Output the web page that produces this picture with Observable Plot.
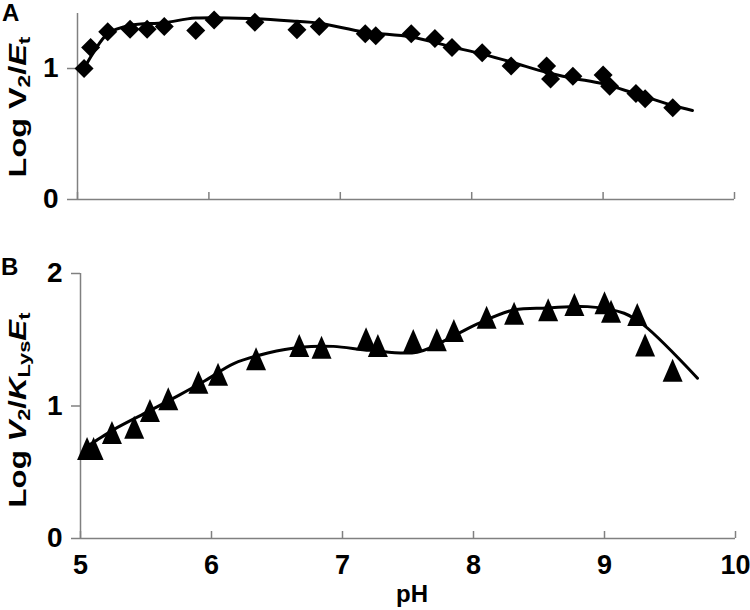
<!DOCTYPE html>
<html><head><meta charset="utf-8">
<script src="https://cdn.jsdelivr.net/npm/d3@7"></script>
<script src="https://cdn.jsdelivr.net/npm/@observablehq/plot@0.6"></script>
<style>
body{margin:0;background:#fff;}
#wrap{position:relative;width:750px;height:610px;overflow:hidden;font-family:"Liberation Sans",Arial,sans-serif;color:#000;}
.pl{position:absolute;left:0;}
.lab{position:absolute;font-weight:bold;white-space:nowrap;}
.ylab{position:absolute;white-space:nowrap;font-weight:bold;font-size:24px;line-height:24px;}
.ylab sub{font-size:70%;vertical-align:-0.25em;line-height:0;}
</style></head><body><div id="wrap"></div>
<script>
// Panel A: Log V2/Et vs pH
const phA  = [5.05,5.10,5.23,5.40,5.53,5.66,5.90,6.04,6.35,6.67,6.84,7.19,7.27,7.54,7.72,7.85,8.08,8.30,8.57,8.60,8.77,9.00,9.05,9.25,9.32,9.53];
const logA = [1.00,1.16,1.28,1.30,1.30,1.32,1.29,1.37,1.353,1.295,1.32,1.265,1.25,1.265,1.23,1.16,1.12,1.02,1.02,0.92,0.94,0.95,0.865,0.81,0.77,0.70];
const fitPhA = [5.05,5.12,5.23,5.40,5.66,5.90,6.35,6.67,6.84,7.19,7.54,7.85,8.08,8.30,8.57,8.77,9.00,9.25,9.53,9.68];
const fitA   = [1.00,1.12,1.265,1.33,1.35,1.385,1.38,1.36,1.346,1.278,1.24,1.165,1.11,1.05,0.97,0.926,0.883,0.807,0.718,0.68];

// Panel B: Log V2/KLysEt vs pH
const phB  = [5.05,5.10,5.24,5.41,5.53,5.67,5.90,6.05,6.34,6.67,6.84,7.18,7.27,7.54,7.72,7.85,8.10,8.31,8.57,8.77,9.00,9.05,9.25,9.31,9.52];
const logB = [0.68,0.68,0.80,0.84,0.966,1.054,1.18,1.24,1.356,1.457,1.444,1.507,1.457,1.494,1.50,1.57,1.67,1.70,1.726,1.766,1.78,1.715,1.69,1.46,1.27];
const fitPhB = [5.05,5.10,5.25,5.50,5.75,5.95,6.17,6.43,6.68,6.93,7.21,7.57,7.85,8.03,8.31,8.56,8.87,9.15,9.30,9.71];
const fitB   = [0.70,0.727,0.82,0.95,1.08,1.19,1.32,1.40,1.444,1.45,1.42,1.406,1.53,1.62,1.726,1.74,1.75,1.70,1.61,1.21];

const xTicks = [5,6,7,8,9,10];
const yTicksA = [0,1];
const yTicksB = [0,1,2];

const diamond = {draw(ctx, size){const r=Math.sqrt(size/Math.PI);ctx.moveTo(0,-r);ctx.lineTo(r,0);ctx.lineTo(0,r);ctx.lineTo(-r,0);ctx.closePath();}};
const tri = {draw(ctx, size){const r=Math.sqrt(size/Math.PI);ctx.moveTo(0,-1.15*r);ctx.lineTo(r,1.15*r);ctx.lineTo(-r,1.15*r);ctx.closePath();}};

const axisGray = "#808080";
const font = '"Liberation Sans", Arial, sans-serif';
const style = {fontFamily:font, fontSize:"26px", fontWeight:"bold", color:"#000", background:"transparent", overflow:"visible"};
const fmt = d => String(d);

const ptsA = phA.map((x,i)=>({x, y:logA[i]}));
const lnA = fitPhA.map((x,i)=>({x, y:fitA[i]}));
const ptsB = phB.map((x,i)=>({x, y:logB[i]}));
const lnB = fitPhB.map((x,i)=>({x, y:fitB[i]}));

const A = Plot.plot({
  width:750, height:210, marginLeft:77, marginRight:16, marginTop:13, marginBottom:11,
  x:{domain:[5,10]}, y:{domain:[0,1.42]}, style,
  marks:[
    Plot.ruleY([0],{stroke:axisGray, strokeWidth:1.5}),
    Plot.ruleX([5],{stroke:axisGray, strokeWidth:1.5}),
    Plot.axisX({ticks:xTicks, tickSize:7, dy:-7, tickFormat:()=>"", label:null, stroke:axisGray, strokeWidth:1.5}),
    Plot.axisY({ticks:yTicksA, tickSize:10, tickPadding:9, tickFormat:fmt, label:null, stroke:axisGray, strokeWidth:1.5, fill:"#000", fontSize:28, fontWeight:"bold"}),
    Plot.line(lnA,{x:"x", y:"y", stroke:"#000", strokeWidth:3, curve:"catmull-rom"}),
    Plot.dot(ptsA,{x:"x", y:"y", symbol:diamond, r:9.5, fill:"#000", stroke:"none"})
  ]
});
A.classList.add("pl"); A.style.top="0px";

const B = Plot.plot({
  width:750, height:380, marginLeft:80, marginRight:15, marginTop:43, marginBottom:72,
  x:{domain:[5,10]}, y:{domain:[0,2]}, style,
  marks:[
    Plot.ruleY([0],{stroke:axisGray, strokeWidth:1.5}),
    Plot.ruleX([5],{stroke:axisGray, strokeWidth:1.5}),
    Plot.axisX({ticks:xTicks, tickSize:7, dy:-7, tickFormat:()=>"", label:null, stroke:axisGray, strokeWidth:1.5}),
    Plot.axisX({ticks:xTicks, tickSize:0, tickPadding:16, tickFormat:fmt, label:null, fill:"#000", fontSize:27, fontWeight:"bold"}),
    Plot.axisY({ticks:yTicksB, tickSize:9, tickPadding:9, tickFormat:fmt, label:null, stroke:axisGray, strokeWidth:1.5, fill:"#000", fontSize:28, fontWeight:"bold"}),
    Plot.line(lnB,{x:"x", y:"y", stroke:"#000", strokeWidth:3, curve:"catmull-rom"}),
    Plot.dot(ptsB,{x:"x", y:"y", symbol:tri, r:10, fill:"#000", stroke:"none"})
  ]
});
B.classList.add("pl"); B.style.top="230px";

const wrap = document.getElementById("wrap");
wrap.appendChild(A); wrap.appendChild(B);

function addLabel(html, left, top, size){
  const d=document.createElement("div"); d.className="lab"; d.innerHTML=html;
  d.style.left=left+"px"; d.style.top=top+"px"; d.style.fontSize=size+"px"; d.style.lineHeight=size+"px"; wrap.appendChild(d); return d;
}
addLabel("A",2,1,24);
addLabel("B",1,255,24);
const ph = addLabel("pH",0,582,24); ph.style.left=(412-ph.offsetWidth/2)+"px";

function addYLabel(html, cx, cy, stretch){
  const d=document.createElement("div"); d.className="ylab"; d.innerHTML=html;
  d.style.left=cx+"px"; d.style.top=cy+"px";
  d.style.transform=`translate(-50%,-50%) rotate(-90deg) scaleX(${stretch})`;
  wrap.appendChild(d); return d;
}
addYLabel("Log V<sub>2</sub>/<i>E</i><sub>t</sub>", 18, 107, 1.35);
addYLabel("Log <i>V</i><sub>2</sub>/<i>K</i><sub>Lys</sub><i>E</i><sub>t</sub>", 18, 410, 1.3);
</script></body></html>
